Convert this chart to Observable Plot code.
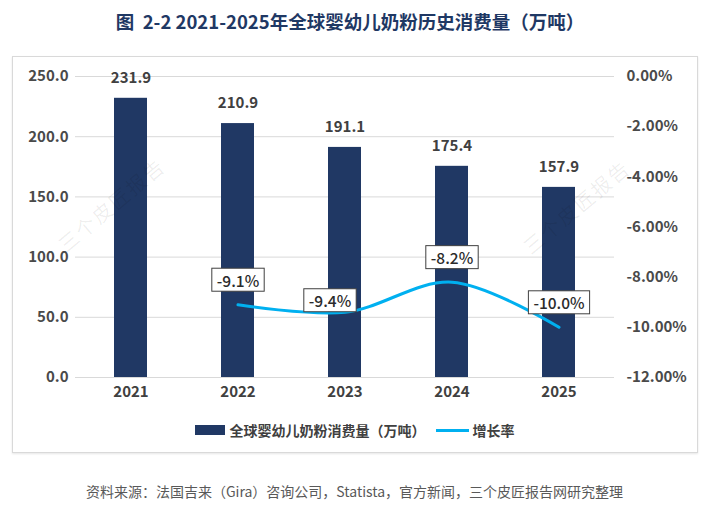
<!DOCTYPE html>
<html><head><meta charset="utf-8">
<script src="https://cdn.jsdelivr.net/npm/d3@7"></script>
<script src="https://cdn.jsdelivr.net/npm/@observablehq/plot@0.6"></script>
<style>
body{margin:0;background:#fff;font-family:"Noto Sans CJK SC","Noto Sans",sans-serif;}
#page{position:relative;width:709px;height:514px;overflow:hidden;}
#title{position:absolute;top:7px;left:0;width:700px;text-align:center;font-size:18.5px;font-weight:bold;color:#1f3864;line-height:28px;white-space:pre;}
#frame{position:absolute;left:12px;top:56px;width:684px;height:395px;border:1px solid #d9d9d9;box-shadow:0 1px 2px rgba(0,0,0,0.10);}
#chart{position:absolute;left:0;top:56px;}
#legend{position:absolute;top:419px;left:0;width:709px;display:flex;justify-content:center;align-items:center;font-size:14px;font-weight:bold;color:#404040;line-height:22px;}
#legend .sw-bar{display:inline-block;width:30px;height:10px;background:#203864;margin-right:5px;}
#legend .sw-line{display:inline-block;width:33px;height:3px;background:#00b0f0;margin-left:10px;margin-right:4px;}
#caption{position:absolute;top:480px;left:0;width:709px;text-align:center;font-size:14px;color:#595959;line-height:22px;}
.wm{position:absolute;font-size:20px;color:rgba(0,0,0,0.07);transform:rotate(-40deg);white-space:nowrap;pointer-events:none;letter-spacing:2px;}
</style></head>
<body>
<div id="page">
  <div id="title">图  2-2 2021-2025年全球婴幼儿奶粉历史消费量（万吨）</div>
  <div id="frame"></div>
  <div id="chart"></div>
  <div id="legend"><span class="sw-bar"></span><span>全球婴幼儿奶粉消费量（万吨）</span><span class="sw-line"></span><span>增长率</span></div>
  <div id="caption">资料来源：法国吉来（Gira）咨询公司，Statista，官方新闻，三个皮匠报告网研究整理</div>
  <div class="wm" style="left:45px;top:190px;">三个皮匠报告</div>
  <div class="wm" style="left:510px;top:192px;">三个皮匠报告</div>
</div>
<script>
const years = ["2021","2022","2023","2024","2025"];
const consumption = [231.9, 210.9, 191.1, 175.4, 157.9];
const growthYears = ["2022","2023","2024","2025"];
const growth = [-9.1, -9.4, -8.2, -10.0];
const leftTicks = [0, 50, 100, 150, 200, 250];
const rightTicks = [0, -2, -4, -6, -8, -10, -12];

const bars = years.map((y, i) => ({year: y, value: consumption[i]}));
const rates = growthYears.map((y, i) => ({year: y, g: growth[i]}));
const rate = d3.scaleLinear([-12, 0], [0, 250]);

const navy = "#203864", cyan = "#00b0f0", txt = "#404040", grid = "#d9d9d9";
const labelStyle = {fontSize: 15.5, fill: "#2b2b2b", fontWeight: 500, className: "growth-label"};

const chart = Plot.plot({
  width: 709, height: 350,
  marginTop: 20, marginBottom: 29, marginLeft: 75, marginRight: 95,
  style: {fontFamily: '"Noto Sans CJK SC","Noto Sans",sans-serif', background: "transparent", overflow: "visible"},
  x: {domain: years, paddingInner: 0.69, paddingOuter: 0.345, label: null},
  y: {domain: [0, 250], label: null},
  marks: [
    Plot.gridY(leftTicks, {stroke: grid, strokeOpacity: 1}),
    Plot.ruleY([0], {stroke: grid, strokeWidth: 1.2}),
    Plot.barY(bars, {x: "year", y: "value", fill: navy}),
    Plot.text(bars, {x: "year", y: "value", text: d => d.value.toFixed(1), dy: -20, fontSize: 15, fontWeight: "bold", fill: txt}),
    Plot.line(rates, {x: "year", y: d => rate(d.g), stroke: cyan, strokeWidth: 3, curve: "catmull-rom"}),
    Plot.text(rates.filter(d => d.year !== "2023"), {x: "year", y: d => rate(d.g), text: d => d.g.toFixed(1) + "%", dy: -23, ...labelStyle}),
    Plot.text(rates.filter(d => d.year === "2023"), {x: "year", y: d => rate(d.g), text: d => d.g.toFixed(1) + "%", dy: -10, dx: -15, ...labelStyle}),
    Plot.axisX({tickSize: 0, tickPadding: 9, fontSize: 15, fontWeight: "bold", color: txt, label: null}),
    Plot.axisY(leftTicks, {anchor: "left", tickSize: 0, tickPadding: 7, tickFormat: d => d.toFixed(1), fontSize: 15, fontWeight: 600, color: "#4a4a4a", label: null}),
    Plot.axisY(rightTicks.map(r => rate(r)), {anchor: "right", tickSize: 0, tickPadding: 12,
      tickFormat: d => { const v = Math.round(rate.invert(d) * 100) / 100; return (v === 0 ? 0 : v).toFixed(2) + "%"; },
      fontSize: 15, fontWeight: 600, color: "#4a4a4a", label: null})
  ]
});
document.getElementById("chart").appendChild(chart);

// white boxed labels behind the growth-rate texts
const NS = "http://www.w3.org/2000/svg";
chart.querySelectorAll(".growth-label text").forEach(t => {
  const b = t.getBBox();
  const r = document.createElementNS(NS, "rect");
  r.setAttribute("x", b.x - 5);
  r.setAttribute("y", b.y - 0.5);
  r.setAttribute("width", b.width + 10);
  r.setAttribute("height", b.height + 1);
  r.setAttribute("fill", "#fff");
  r.setAttribute("stroke", "#404040");
  r.setAttribute("stroke-width", 1);
  const tr = t.getAttribute("transform");
  if (tr) r.setAttribute("transform", tr);
  t.parentNode.insertBefore(r, t);
});
</script>
</body></html>
